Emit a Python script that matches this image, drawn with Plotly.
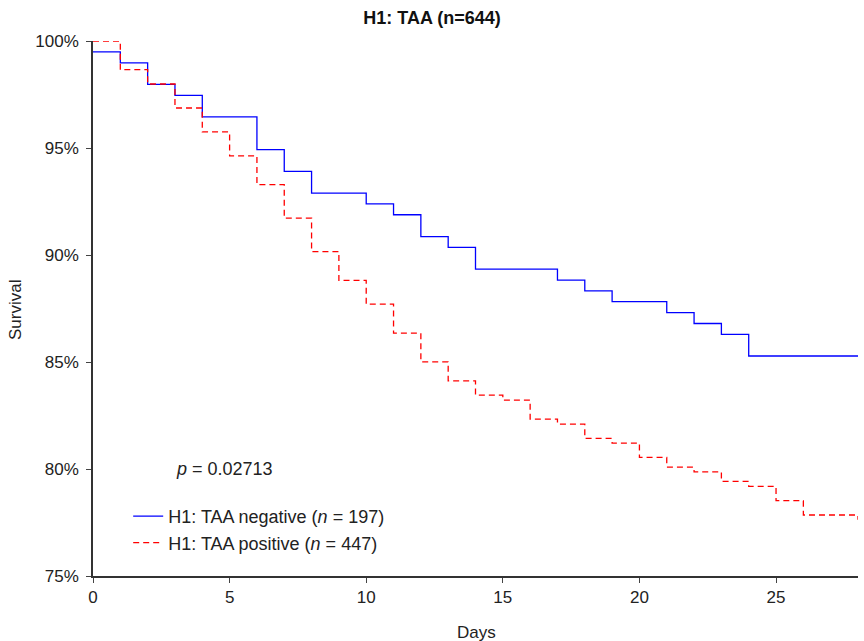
import plotly.graph_objects as go

# Kaplan-Meier step data (days, survival %)
neg_days = [0, 1, 2, 3, 4, 6, 7, 8, 10, 11, 12, 13, 14, 17, 18, 19, 21, 22, 23, 24, 28]
neg_surv = [99.49, 98.98, 97.97, 97.46, 96.45, 94.92, 93.91, 92.89, 92.39, 91.88, 90.86,
            90.36, 89.34, 88.83, 88.32, 87.82, 87.31, 86.80, 86.29, 85.28, 85.28]

pos_days = [0, 1, 2, 3, 4, 5, 6, 7, 8, 9, 10, 11, 12, 13, 14, 15, 16, 17, 18, 19, 20,
            21, 22, 23, 24, 25, 26, 28]
pos_surv = [100.0, 98.66, 97.99, 96.87, 95.75, 94.63, 93.29, 91.72, 90.16, 88.81, 87.70,
            86.35, 85.01, 84.12, 83.45, 83.22, 82.33, 82.10, 81.43, 81.21, 80.54, 80.09,
            79.87, 79.42, 79.19, 78.52, 77.85, 77.63]

x_ticks = [0, 5, 10, 15, 20, 25]
y_ticks = [75, 80, 85, 90, 95, 100]
y_tick_labels = ["75%", "80%", "85%", "90%", "95%", "100%"]

FONT = "Liberation Sans, Arial, sans-serif"
W, H = 864, 641
L, R, T, B = 93, 6, 41, 65
pw, ph = W - L - R, H - T - B

fig = go.Figure()
fig.add_trace(go.Scatter(
    x=neg_days, y=neg_surv, mode="lines", line_shape="hv",
    line=dict(color="#0000FF", width=1.3),
    name="H1: TAA negative (<i>n</i> = 197)"))
fig.add_trace(go.Scatter(
    x=pos_days, y=pos_surv, mode="lines", line_shape="hv",
    line=dict(color="#FF0000", width=1.3, dash="6px,4px"),
    name="H1: TAA positive (<i>n</i> = 447)"))

fig.update_layout(
    width=W, height=H,
    margin=dict(l=L, r=R, t=T, b=B, autoexpand=False),
    paper_bgcolor="white", plot_bgcolor="white",
    font=dict(family=FONT, size=17, color="#222"),
    title=dict(text="<b>H1: TAA (n=644)</b>", x=0.5, xanchor="center",
               xref="container", y=0.972, yanchor="middle",
               font=dict(size=18, color="#111")),
    showlegend=True,
    legend=dict(x=0.046, y=0.087, xanchor="left", yanchor="middle",
                bgcolor="rgba(0,0,0,0)", font=dict(size=18), tracegroupgap=0,
                itemwidth=30),
    xaxis=dict(range=[0, 28], tickvals=x_ticks, ticks="outside", ticklen=5,
               showline=True, linecolor="#333", linewidth=1.5, showgrid=False,
               zeroline=False, automargin=False, tickfont=dict(size=17)),
    yaxis=dict(range=[75, 100], tickvals=y_ticks, ticktext=y_tick_labels,
               ticks="outside", ticklen=5, showline=True, linecolor="#333",
               linewidth=1.5, showgrid=False, zeroline=False, automargin=False,
               ticklabelstandoff=4, tickfont=dict(size=17)),
    annotations=[
        dict(text="<i>p</i> = 0.02713", x=2.95, y=80.0, xref="x", yref="y",
             xanchor="left", yanchor="middle", showarrow=False, font=dict(size=18)),
        dict(text="Days", x=(476 - L) / pw, y=(H - B - 632) / ph,
             xref="paper", yref="paper", xanchor="center", yanchor="middle",
             showarrow=False, font=dict(size=17)),
        dict(text="Survival", x=(15 - L) / pw, y=(H - B - 310) / ph,
             xref="paper", yref="paper", xanchor="center", yanchor="middle",
             showarrow=False, textangle=-90, font=dict(size=17)),
    ],
)

fig.write_html("out.html", config={"displayModeBar": False},
               post_script="document.body.style.margin='0';document.body.style.overflow='hidden';")
